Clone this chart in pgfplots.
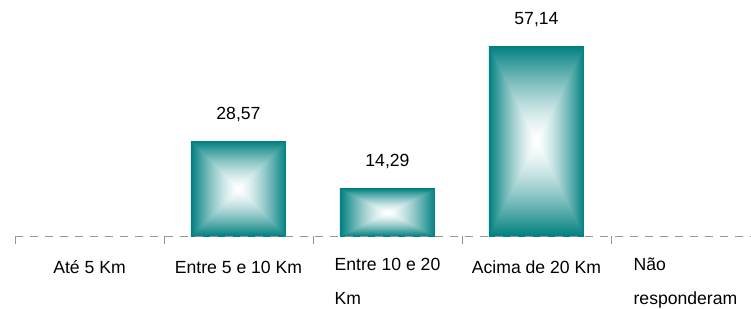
\documentclass[border=0pt]{standalone}
\usepackage{pgfplots}
\pgfplotsset{compat=1.18}
\usepackage{fontspec}
\setmainfont{Liberation Sans}
\definecolor{axisgray}{RGB}{150,150,150}
\pgfdeclarefunctionalshading{pyr}{\pgfpoint{-50bp}{-50bp}}{\pgfpoint{50bp}{50bp}}{}{abs exch abs 2 copy lt {exch} if pop 25 div 1.4 exp dup 0.5 mul 1 exch sub exch 1 exch sub exch dup}
\newcommand\lblfont{\fontsize{17.6}{34}\selectfont}
\begin{document}
\begin{tikzpicture}[x=1pt,y=1pt]
\begin{axis}[
  at={(0,0)}, anchor=south west,
  scale only axis, width=736pt, height=236pt,
  xmin=-0.5, xmax=4.44, ymin=0, ymax=71,
  hide y axis,
  axis x line*=bottom,
  axis on top,
  x axis line style={dash pattern=on 8pt off 7pt, draw=axisgray, line width=0.8pt, -},
  xtick={-0.5,0.5,1.5,2.5,3.5},
  xticklabels={},
  tick align=outside,
  major tick length=8pt,
  xtick style={draw=axisgray, line width=0.8pt},
  extra x ticks={0,1,2,3,4},
  extra x tick labels={Até 5 Km, Entre 5 e 10 Km, {Entre 10 e 20\\Km}, Acima de 20 Km, {Não\\responderam}},
  extra x tick style={major tick length=0pt, xticklabel style={font=\lblfont, align=left, anchor=north, inner sep=0pt, yshift=-22pt, execute at begin node={\rule{0pt}{15pt}}}},
  nodes near coords style={font=\lblfont, anchor=base, yshift=22pt, inner sep=0pt,
    /pgf/number format/.cd, use comma, fixed, fixed zerofill, precision=2, assume math mode=true},
]
\addplot[ybar, bar width=95pt, bar shift=0pt, draw=none, shade, shading=pyr, nodes near coords] coordinates {(1,28.57)};
\addplot[ybar, bar width=95pt, bar shift=0pt, draw=none, shade, shading=pyr, nodes near coords] coordinates {(2,14.29)};
\addplot[ybar, bar width=95pt, bar shift=0pt, draw=none, shade, shading=pyr, nodes near coords] coordinates {(3,57.14)};
\end{axis}
\pgfresetboundingbox
\path[use as bounding box] (-15,-72) rectangle (736,236);
\end{tikzpicture}
\end{document}
